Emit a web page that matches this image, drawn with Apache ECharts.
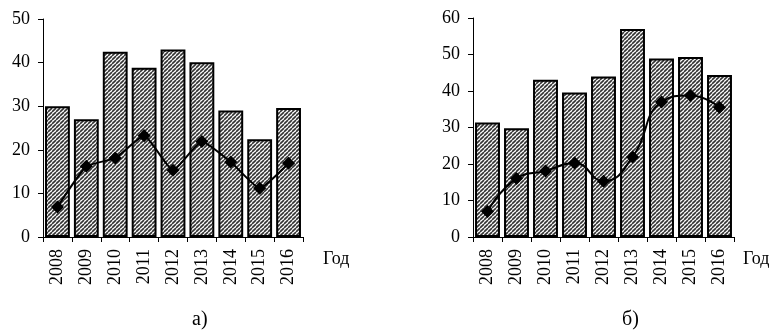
<!DOCTYPE html>
<html>
<head>
<meta charset="utf-8">
<script src="https://cdn.jsdelivr.net/npm/echarts@6/dist/echarts.min.js"></script>
<style>
  html, body { margin: 0; padding: 0; background: #fff; }
  #chart { width: 776px; height: 331px; }
</style>
</head>
<body>
<div id="chart"></div>
<script>
// Years shared by both panels
const years = ['2008', '2009', '2010', '2011', '2012', '2013', '2014', '2015', '2016'];

// Panel а)
const barsA = [30, 27, 42.5, 38.8, 43, 40.1, 29, 22.4, 29.6];
const lineA = [6.9, 16.2, 18.1, 23.2, 15.3, 21.9, 17.2, 11.2, 16.9];
const ticksA = [0, 10, 20, 30, 40, 50];

// Panel б)
const barsB = [31.4, 29.8, 43.1, 39.6, 44.0, 57.0, 48.9, 49.3, 44.4];
const lineB = [7.0, 16.0, 18.1, 20.3, 15.3, 21.9, 37.0, 38.8, 35.5];
const ticksB = [0, 10, 20, 30, 40, 50, 60];

const axisName = 'Год';
const captions = ['а)', 'б)'];

// Diagonal hatch tile used to fill the bars
function hatchTile() {
  const s = 4;
  const c = document.createElement('canvas');
  c.width = s; c.height = s;
  const g = c.getContext('2d');
  g.fillStyle = '#fff';
  g.fillRect(0, 0, s, s);
  g.strokeStyle = '#333';
  g.lineWidth = 1.6;
  for (const o of [-s, 0, s]) {
    g.beginPath();
    g.moveTo(o, s);
    g.lineTo(o + s, 0);
    g.stroke();
  }
  return c;
}
const hatch = { image: hatchTile(), repeat: 'repeat' };

const font = 'Liberation Serif, Times New Roman, serif';
const black = '#000';

function xAxisFor(gridIndex, nameGap) {
  return {
    type: 'category',
    gridIndex,
    data: years,
    boundaryGap: true,
    axisLine: { lineStyle: { color: black, width: 1 } },
    axisTick: { show: true, length: 5, lineStyle: { color: black } },
    axisLabel: { rotate: 90, margin: 12, color: black, fontFamily: font, fontSize: 18 },
    name: axisName,
    nameLocation: 'end',
    nameGap,
    nameTextStyle: { color: black, fontFamily: font, fontSize: 18, verticalAlign: 'top', padding: [13, 0, 0, 0] }
  };
}

function yAxisFor(gridIndex, ticks) {
  return {
    type: 'value',
    gridIndex,
    min: ticks[0],
    max: ticks[ticks.length - 1],
    interval: ticks[1] - ticks[0],
    splitLine: { show: false },
    axisLine: { show: true, lineStyle: { color: black, width: 1 } },
    axisTick: { show: true, length: 5, lineStyle: { color: black } },
    axisLabel: { margin: 13, color: black, fontFamily: font, fontSize: 18 }
  };
}

function barSeries(idx, data) {
  return {
    type: 'bar',
    xAxisIndex: idx,
    yAxisIndex: idx,
    data,
    barCategoryGap: '14%',
    itemStyle: { color: hatch, borderColor: black, borderWidth: 2 },
    silent: true,
    z: 2
  };
}

function lineSeries(idx, data, smooth) {
  return {
    type: 'line',
    xAxisIndex: idx,
    yAxisIndex: idx,
    data,
    smooth,
    symbol: 'diamond',
    symbolSize: 13,
    lineStyle: { color: black, width: 2 },
    itemStyle: { color: black },
    silent: true,
    z: 3
  };
}

const captionStyle = { fontFamily: font, fontSize: 20, fontWeight: 'normal', color: black };

const chart = echarts.init(document.getElementById('chart'), null, { renderer: 'canvas' });
chart.setOption({
  animation: false,
  backgroundColor: '#fff',
  title: [
    { text: captions[0], left: 187, top: 305, textStyle: captionStyle },
    { text: captions[1], left: 617, top: 305, textStyle: captionStyle }
  ],
  grid: [
    { left: 43, top: 19, width: 260, height: 218 },
    { left: 473, top: 18, width: 261, height: 219 }
  ],
  xAxis: [xAxisFor(0, 20), xAxisFor(1, 9)],
  yAxis: [yAxisFor(0, ticksA), yAxisFor(1, ticksB)],
  series: [
    barSeries(0, barsA),
    lineSeries(0, lineA, 0.15),
    barSeries(1, barsB),
    lineSeries(1, lineB, 0.5)
  ]
});
</script>
</body>
</html>
